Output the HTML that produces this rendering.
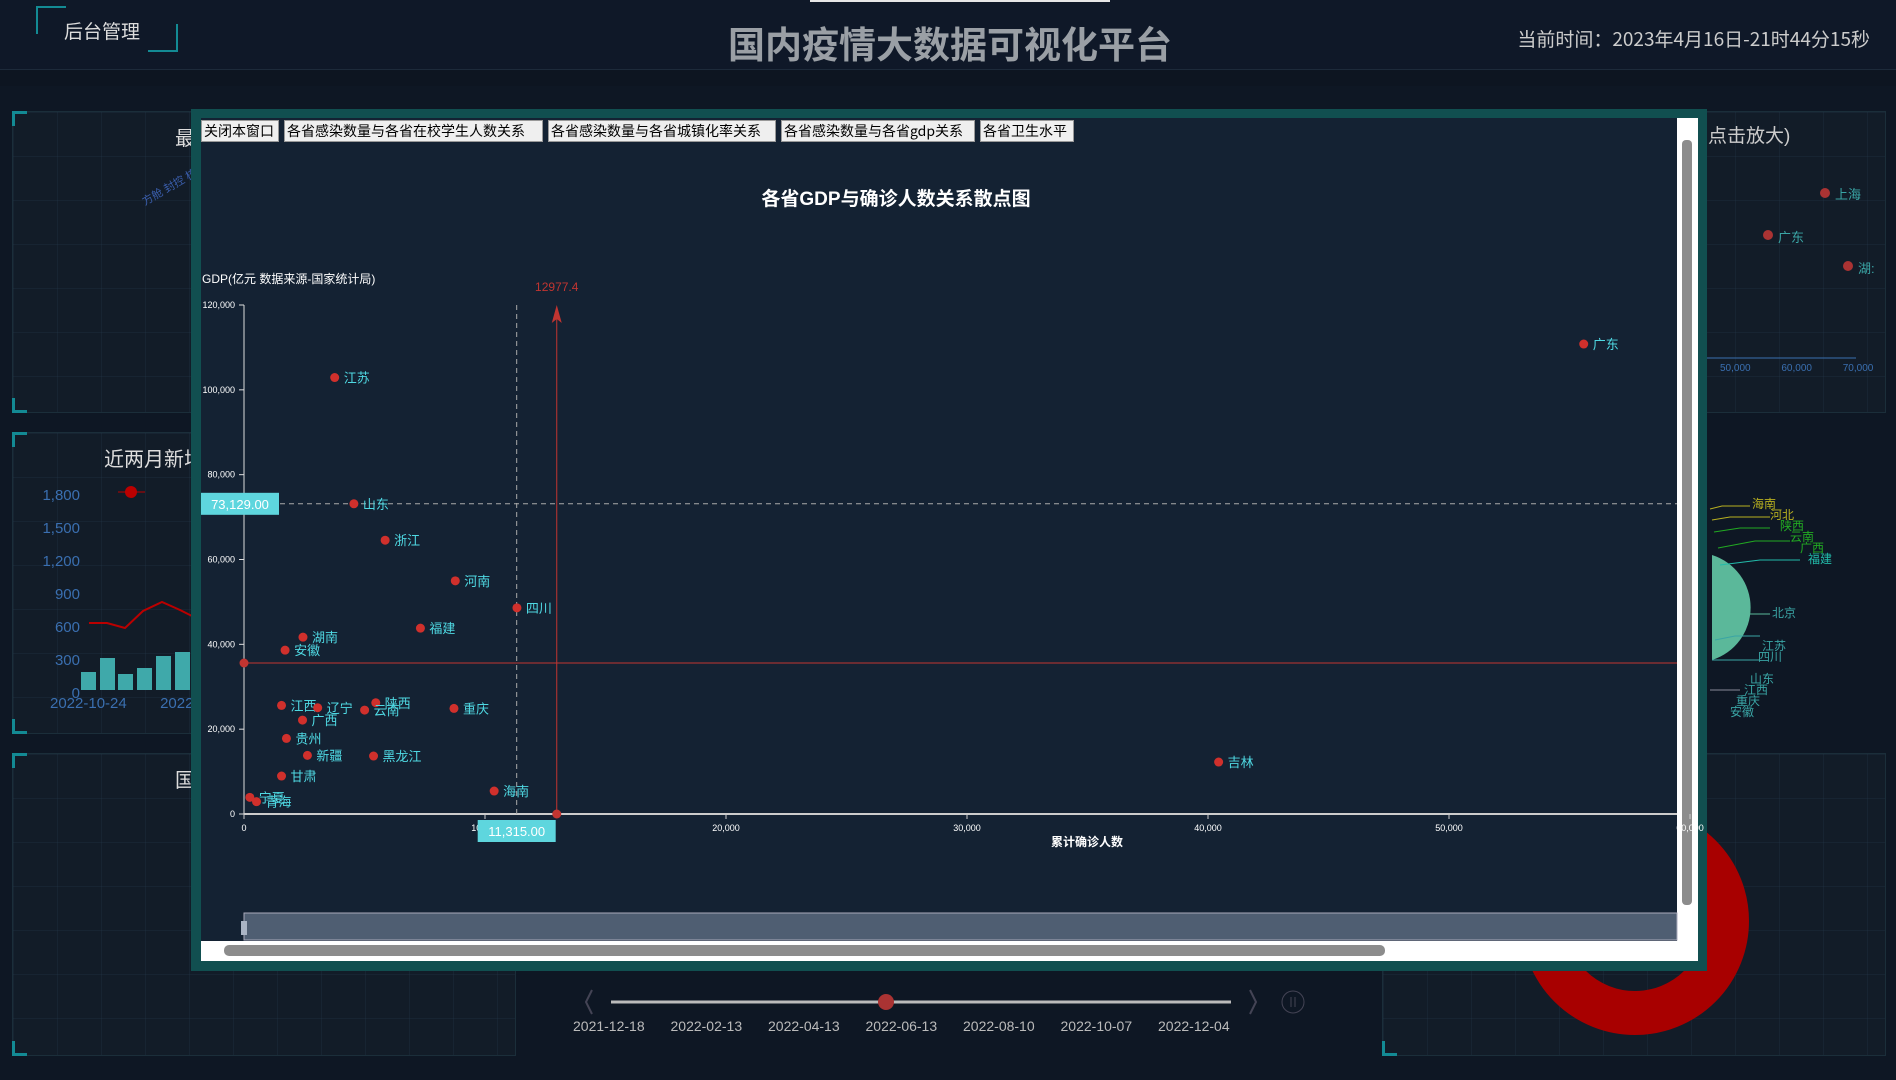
<!DOCTYPE html>
<html><head><meta charset="utf-8">
<style>
*{margin:0;padding:0;box-sizing:border-box}
body{width:1896px;height:1080px;overflow:hidden;background:#0e1724;font-family:"Liberation Sans","Noto Sans CJK SC",sans-serif;position:relative}
.abs{position:absolute}
.panel{position:absolute;background:#121c28;border:1px solid #1b2e3a;background-image:linear-gradient(rgba(40,60,80,.25) 1px,transparent 1px),linear-gradient(90deg,rgba(40,60,80,.25) 1px,transparent 1px);background-size:44px 44px}
.panel:before{content:"";position:absolute;left:-1px;top:-1px;width:12px;height:12px;border-left:3px solid #138a94;border-top:3px solid #138a94}
.panel:after{content:"";position:absolute;left:-1px;bottom:-1px;width:12px;height:12px;border-left:3px solid #138a94;border-bottom:3px solid #138a94}
.btn{position:absolute;top:120px;height:22px;background:#efefef;border:1px solid #999;font-size:14px;line-height:20px;color:#000;padding:0 2px;white-space:nowrap;font-family:"Noto Sans CJK SC",sans-serif}
</style></head><body>
<div class="abs" style="left:0;top:0;width:1896px;height:70px;background:#0f1828;border-bottom:1px solid #1d2a3a"></div>
<div class="abs" style="left:0;top:70px;width:1896px;height:16px;background:#0d1521"></div>
<div class="abs" style="left:810px;top:0;width:300px;height:2px;background:#e6e6e6"></div>
<div class="abs" style="left:36px;top:6px;width:30px;height:28px;border-left:2px solid #138a94;border-top:2px solid #138a94;"></div>
<div class="abs" style="left:148px;top:24px;width:30px;height:28px;border-right:2px solid #138a94;border-bottom:2px solid #138a94;"></div>
<div class="abs" style="left:64px;top:17px;font-size:19px;color:#ddd;font-family:'Noto Sans CJK SC',sans-serif">后台管理</div>
<div class="abs" style="left:600px;top:15px;width:700px;text-align:center;font-size:37px;font-weight:bold;color:#9a9fa5;font-family:'Noto Sans CJK SC',sans-serif">国内疫情大数据可视化平台</div>
<div class="abs" style="right:26px;top:25px;font-size:19px;color:#ccc;font-family:'Noto Sans CJK SC',sans-serif">当前时间：2023年4月16日-21时44分15秒</div>

<div class="panel" style="left:12px;top:111px;width:504px;height:302px"></div>
<div class="abs" style="left:175px;top:122px;font-size:20px;color:#ddd">最</div>
<div class="abs" style="left:138px;top:176px;font-size:11px;color:#3b5fae;transform:rotate(-30deg)">方舱 封控 核酸</div>
<div class="panel" style="left:12px;top:432px;width:504px;height:302px"></div>
<div class="abs" style="left:104px;top:443px;font-size:20px;color:#ddd;font-family:'Noto Sans CJK SC',sans-serif">近两月新增</div>
<div class="abs" style="left:36px;top:479px;font-size:15px;color:#3a6fb0;line-height:33px;text-align:right;width:44px">1,800<br>1,500<br>1,200<br>900<br>600<br>300<br>0</div>
<div class="abs" style="left:50px;top:695px;font-size:15px;color:#3a6fb0">2022-10-24 &nbsp; &nbsp; &nbsp; &nbsp;2022</div>
<svg class="abs" style="left:0;top:0" width="1896" height="1080">
<polyline points="89,623 107,623 125,628 143,611 162,602 180,610 192,616" fill="none" stroke="#b00" stroke-width="2"/>
<circle cx="131" cy="492" r="6" fill="#b00"/><line x1="118" y1="492" x2="145" y2="492" stroke="#b00"/>
<g fill="#3fa9aa"><rect x="81" y="672" width="15" height="18"/><rect x="100" y="658" width="15" height="32"/><rect x="118" y="674" width="15" height="16"/><rect x="137" y="668" width="15" height="22"/><rect x="156" y="656" width="15" height="34"/><rect x="175" y="652" width="15" height="38"/></g>
<path d="M185,880 A110,110 0 0,0 150,1000" fill="none" stroke="#4aa3a5" stroke-width="26"/>
<path d="M330,975 L345,975 L332,1000 L318,995Z" fill="#b5524e"/>
<circle cx="1635" cy="921" r="92" fill="none" stroke="#a80000" stroke-width="44"/>
<circle cx="1825" cy="193" r="5" fill="#a33"/><circle cx="1768" cy="235" r="5" fill="#a33"/>
<circle cx="1848" cy="266" r="5" fill="#a33"/>
<line x1="1700" y1="358" x2="1856" y2="358" stroke="#3a6fb0"/>
<path d="M1712,555 A55,55 0 0,1 1712,660" fill="#5bb89a"/>
<g stroke-width="1" fill="none">
<polyline points="1710,509 1722,506 1750,506" stroke="#b8b020"/>
<polyline points="1712,520 1730,517 1770,517" stroke="#b8b020"/>
<polyline points="1714,532 1740,528 1770,528" stroke="#2a2"/>
<polyline points="1718,548 1755,541 1790,541" stroke="#2a2"/>
<polyline points="1720,565 1760,560 1800,560" stroke="#2ba"/>
<polyline points="1722,610 1745,614 1770,614" stroke="#5bb89a"/>
<polyline points="1715,640 1735,636 1760,636" stroke="#3aa5a5"/>
<polyline points="1712,660 1730,660 1760,660" stroke="#3aa5a5"/>
<polyline points="1710,690 1740,690" stroke="#889"/>
</g>
<line x1="611" y1="1002" x2="1231" y2="1002" stroke="#bbb" stroke-width="3"/>
<circle cx="886" cy="1002" r="8" fill="#a33"/>
<path d="M592,990 L586,1002 L592,1014" fill="none" stroke="#445" stroke-width="2"/>
<path d="M1250,990 L1256,1002 L1250,1014" fill="none" stroke="#445" stroke-width="2"/>
<circle cx="1293" cy="1002" r="11" fill="none" stroke="#445"/>
<line x1="1291" y1="997" x2="1291" y2="1007" stroke="#445"/><line x1="1295" y1="997" x2="1295" y2="1007" stroke="#445"/>
</svg>
<div class="abs" style="left:1708px;top:121px;font-size:19px;color:#ccc">点击放大)</div>
<div class="abs" style="left:1835px;top:184px;font-size:13px;color:#3aa5a5">上海</div>
<div class="abs" style="left:1778px;top:227px;font-size:13px;color:#3aa5a5">广东</div>
<div class="abs" style="left:1858px;top:258px;font-size:13px;color:#3aa5a5">湖:</div>
<div class="abs" style="left:1720px;top:363px;font-size:10px;color:#3a6fb0;word-spacing:28px">50,000 60,000 70,000</div>
<div class="abs" style="left:1752px;top:499px;font-size:12px;line-height:11px;color:#b8b020">海南<br><span style="margin-left:18px">河北</span><br><span style="color:#2a2;margin-left:28px">陕西</span><br><span style="color:#2a2;margin-left:38px">云南</span><br><span style="color:#2a2;margin-left:48px">广西</span><br><span style="color:#2ba;margin-left:56px">福建</span></div>
<div class="abs" style="left:1772px;top:608px;font-size:12px;line-height:11px;color:#3aa5a5">北京<br><br><br><span style="margin-left:-10px">江苏</span><br><span style="margin-left:-14px">四川</span><br><br><span style="margin-left:-22px">山东</span><br><span style="margin-left:-28px">江西</span><br><span style="margin-left:-36px">重庆</span><br><span style="margin-left:-42px">安徽</span></div>
<div class="panel" style="left:12px;top:753px;width:504px;height:303px"></div>
<div class="abs" style="left:175px;top:764px;font-size:20px;color:#ddd">国</div>
<div class="panel" style="left:1382px;top:111px;width:504px;height:302px;z-index:-1"></div>
<div class="panel" style="left:1382px;top:753px;width:504px;height:303px;z-index:-1"></div>
<div class="abs" style="left:573px;top:1018px;font-size:14px;color:#bbb;word-spacing:22px">2021-12-18 2022-02-13 2022-04-13 2022-06-13 2022-08-10 2022-10-07 2022-12-04</div>

<div class="abs" style="left:191px;top:109px;width:1516px;height:862px;background:#114f50"></div>
<div class="abs" style="left:201px;top:118px;width:1497px;height:843px;background:#fff"></div>
<div class="abs" style="left:201px;top:118px;width:1476px;height:823px;background:#142233"></div>
<div class="abs" style="left:1682px;top:140px;width:10px;height:765px;background:#8c8c8c;border-radius:4px"></div>
<div class="abs" style="left:224px;top:945px;width:1161px;height:11px;background:#8c8c8c;border-radius:5px"></div>
<div class="btn" style="left:201px;width:78px">关闭本窗口</div>
<div class="btn" style="left:284px;width:259px">各省感染数量与各省在校学生人数关系</div>
<div class="btn" style="left:548px;width:228px">各省感染数量与各省城镇化率关系</div>
<div class="btn" style="left:781px;width:194px">各省感染数量与各省gdp关系</div>
<div class="btn" style="left:980px;width:94px">各省卫生水平</div>

<svg class="abs" id="chart" style="left:0;top:0" width="1896" height="1080" font-family="Liberation Sans, Noto Sans CJK SC, sans-serif"></svg>
<script>
const provinces=["江苏","广东","山东","浙江","河南","四川","福建","湖南","安徽","江西","辽宁","陕西","云南","广西","重庆","贵州","新疆","黑龙江","甘肃","海南","宁夏","青海","吉林"];
const cases=[3763,55590,4560,5857,8767,11325,7321,2447,1705,1557,3058,5468,5005,2428,8712,1761,2632,5375,1557,10380,241,519,40441];
const gdp=[102900,110800,73129,64546,54966,48606,43816,41696,38633,25599,25049,26227,24500,22144,24892,17825,13820,13663,8952,5418,3926,2905,12256];
const xTicks=[0,10000,20000,30000,40000,50000,60000];
const yTicks=[0,20000,40000,60000,80000,100000,120000];
const meanX=11315, meanY=73129, markX=12977.4, markY=35600;
const X=v=>244+v*241/10000, Y=v=>814-v*509/120000;
const svg=document.getElementById('chart');const NS="http://www.w3.org/2000/svg";
function mk(t,a,txt){const e=document.createElementNS(NS,t);for(const k in a)e.setAttribute(k,a[k]);if(txt!=null)e.textContent=txt;svg.appendChild(e);return e;}
const fmt=v=>v.toLocaleString('en-US');
let e;
e=mk('text',{x:896,y:205,'text-anchor':'middle','font-size':19,'font-weight':'bold',fill:'#fff'},'各省GDP与确诊人数关系散点图');


e=mk('text',{x:202,y:283,'font-size':12,fill:'#fff'},'GDP(亿元 数据来源-国家统计局)');


e=mk('text',{x:1087,y:846,'text-anchor':'middle','font-size':12,'font-weight':'bold',fill:'#fff'},'累计确诊人数');


e=mk('line',{x1:244,y1:Y(120000),x2:244,y2:814,stroke:'#ddd'});


e=mk('line',{x1:244,y1:814,x2:1677,y2:814,stroke:'#ccc','stroke-width':2});


yTicks.forEach(v=>{
 e=mk('text',{x:235,y:Y(v)+3,'text-anchor':'end','font-size':9,fill:'#fff'},fmt(v));
 
 
 mk('line',{x1:239,x2:244,y1:Y(v),y2:Y(v),stroke:'#ddd'});
});
xTicks.forEach(v=>{
 e=mk('text',{x:X(v),y:831,'text-anchor':'middle','font-size':9,fill:'#fff'},fmt(v));
 
 
 mk('line',{x1:X(v),x2:X(v),y1:814,y2:819,stroke:'#ccc'});
});
e=mk('line',{x1:244,y1:Y(meanY),x2:1677,y2:Y(meanY),stroke:'#aaa','stroke-dasharray':'5,4'});


e=mk('line',{x1:X(meanX),y1:Y(120000),x2:X(meanX),y2:814,stroke:'#aaa','stroke-dasharray':'5,4'});


e=mk('line',{x1:X(markX),y1:Y(120000)+8,x2:X(markX),y2:814,stroke:'#c23531'});


e=mk('path',{d:`M${X(markX)},${Y(120000)} l-5,18 l5,-4 l5,4z`,fill:'#c23531'});


e=mk('text',{x:X(markX),y:Y(120000)-14,'text-anchor':'middle','font-size':12,fill:'#c23531'},String(markX));


e=mk('line',{x1:244,y1:Y(markY),x2:1677,y2:Y(markY),stroke:'#c23531'});


mk('circle',{cx:244,cy:Y(markY),r:4.5,fill:'#c23531'});
mk('circle',{cx:X(markX),cy:814,r:4.5,fill:'#c23531'});
provinces.forEach((p,i)=>{
 e=mk('circle',{cx:X(cases[i]),cy:Y(gdp[i]),r:4.5,fill:'#d0302c'});
 
 
 e=mk('text',{x:X(cases[i])+9,y:Y(gdp[i])+5,'font-size':13,fill:'#4fd9e3'},p);
 
 
});
e=mk('rect',{x:201,y:Y(meanY)-11,width:78,height:22,fill:'#5ed6de'});


mk('text',{x:240,y:Y(meanY)+5,'text-anchor':'middle','font-size':13,fill:'#fff'},fmt(meanY)+'.00');
e=mk('rect',{x:X(meanX)-39,y:820,width:78,height:22,fill:'#5ed6de'});


mk('text',{x:X(meanX),y:836,'text-anchor':'middle','font-size':13,fill:'#fff'},fmt(meanX)+'.00');
e=mk('rect',{x:244,y:913,width:1433,height:27,fill:'#4f5e72',stroke:'#aab','stroke-width':1});


e=mk('rect',{x:241,y:921,width:6,height:14,fill:'#aab4c4'});


</script>
</body></html>
